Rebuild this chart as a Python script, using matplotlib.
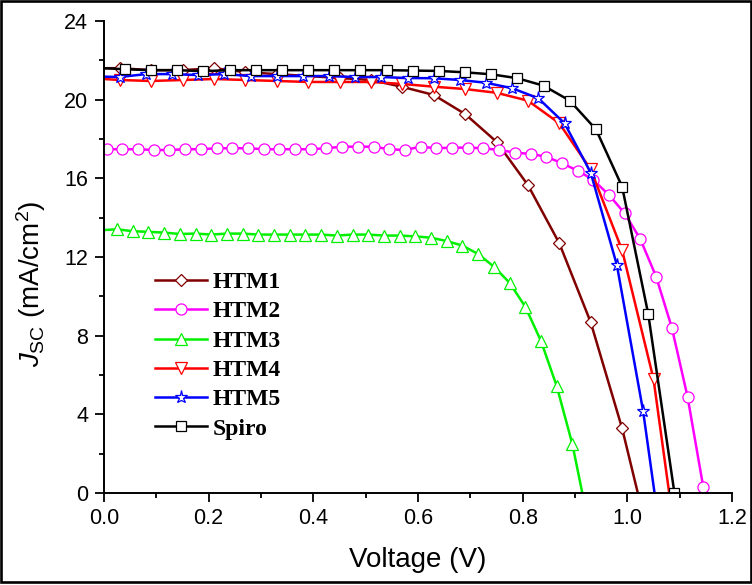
import matplotlib
matplotlib.use("Agg")
import matplotlib.pyplot as plt
from matplotlib.ticker import MultipleLocator
from matplotlib.patches import Rectangle

# J-V curves (voltage in V, current density in mA/cm^2)
htm1_v = [0.00, 0.03, 0.09, 0.15, 0.21, 0.27, 0.33, 0.39, 0.45, 0.51, 0.57,
          0.63, 0.69, 0.75, 0.81, 0.87, 0.93, 0.99, 1.02]
htm1_j = [21.60, 21.60, 21.50, 21.50, 21.60, 21.40, 21.30, 21.20, 21.10, 21.00, 20.65,
          20.24, 19.27, 17.86, 15.66, 12.70, 8.68, 3.29, 0.00]

htm2_v = [0.005, 0.035, 0.065, 0.095, 0.125, 0.155, 0.185, 0.215, 0.245, 0.275,
          0.305, 0.335, 0.365, 0.395, 0.425, 0.455, 0.485, 0.515, 0.545, 0.575,
          0.605, 0.635, 0.665, 0.695, 0.725, 0.755, 0.785, 0.815, 0.845, 0.875,
          0.905, 0.935, 0.965, 0.995, 1.025, 1.055, 1.085, 1.115, 1.145]
htm2_j = [17.48, 17.48, 17.48, 17.44, 17.44, 17.48, 17.48, 17.53, 17.53, 17.53,
          17.48, 17.48, 17.48, 17.48, 17.53, 17.61, 17.61, 17.61, 17.48, 17.44,
          17.61, 17.53, 17.56, 17.56, 17.53, 17.44, 17.31, 17.24, 17.10, 16.77,
          16.39, 15.92, 15.15, 14.22, 12.90, 11.00, 8.41, 4.90, 0.32]

htm3_v = [0.000, 0.025, 0.055, 0.085, 0.115, 0.145, 0.175, 0.205, 0.235, 0.265,
          0.295, 0.325, 0.355, 0.385, 0.415, 0.445, 0.475, 0.505, 0.535, 0.565,
          0.595, 0.625, 0.655, 0.685, 0.715, 0.745, 0.775, 0.805, 0.835, 0.865,
          0.895, 0.914]
htm3_j = [13.37, 13.41, 13.31, 13.28, 13.24, 13.17, 13.19, 13.14, 13.19, 13.19,
          13.14, 13.14, 13.14, 13.14, 13.14, 13.09, 13.14, 13.14, 13.09, 13.09,
          13.05, 12.98, 12.81, 12.58, 12.15, 11.51, 10.69, 9.47, 7.73, 5.44,
          2.48, 0.00]

htm4_v = [0.00, 0.03, 0.09, 0.15, 0.21, 0.27, 0.33, 0.39, 0.45, 0.51, 0.57,
          0.63, 0.69, 0.75, 0.81, 0.87, 0.93, 0.99, 1.05, 1.08]
htm4_j = [21.05, 21.00, 20.95, 21.00, 21.05, 21.00, 20.95, 20.90, 20.90, 20.90, 20.80,
          20.66, 20.54, 20.35, 19.95, 18.80, 16.45, 12.35, 5.80, 0.00]

htm5_v = [0.000, 0.03, 0.08, 0.13, 0.18, 0.23, 0.28, 0.33, 0.38, 0.43, 0.48, 0.53,
          0.58, 0.63, 0.68, 0.73, 0.78, 0.83, 0.88, 0.93, 0.98, 1.03, 1.052]
htm5_j = [21.17, 21.15, 21.30, 21.30, 21.25, 21.30, 21.20, 21.20, 21.20, 21.20, 21.15, 21.15,
          21.10, 21.09, 21.00, 20.86, 20.58, 20.07, 18.80, 16.29, 11.59, 4.19, 0.00]

spiro_v = [0.00, 0.04, 0.09, 0.14, 0.19, 0.24, 0.29, 0.34, 0.39, 0.44, 0.49, 0.54,
           0.59, 0.64, 0.69, 0.74, 0.79, 0.84, 0.89, 0.94, 0.99, 1.04, 1.09]
spiro_j = [21.60, 21.55, 21.50, 21.50, 21.45, 21.50, 21.50, 21.50, 21.50, 21.50, 21.50, 21.50,
           21.48, 21.46, 21.39, 21.29, 21.09, 20.71, 19.95, 18.49, 15.58, 9.09, 0.00]

labels = ["HTM1", "HTM2", "HTM3", "HTM4", "HTM5", "Spiro"]
x_ticks = [0.0, 0.2, 0.4, 0.6, 0.8, 1.0, 1.2]
y_ticks = [0, 4, 8, 12, 16, 20, 24]

plt.rcParams["font.family"] = ["Liberation Sans", "DejaVu Sans"]
plt.rcParams["mathtext.fontset"] = "custom"
plt.rcParams["mathtext.rm"] = "Liberation Sans"
plt.rcParams["mathtext.it"] = "Liberation Sans:italic"

fig = plt.figure(figsize=(7.52, 5.85), dpi=100)
ax = fig.add_axes([104 / 752, 92 / 585, 628 / 752, 472 / 585])

series = [
    (htm1_v, htm1_j, "#800000", "D", 6.6, slice(1, -1)),
    (htm2_v, htm2_j, "#ff00ff", "o", 8.0, None),
    (htm3_v, htm3_j, "#00f000", "^", 9.0, slice(1, -1)),
    (htm4_v, htm4_j, "#ff0000", "v", 8.5, slice(1, -1)),
    (htm5_v, htm5_j, "#0000ff", "*", 9.5, slice(1, -1)),
    (spiro_v, spiro_j, "#000000", "s", 6.8, slice(1, None)),
]

for (v, j, color, marker, ms, every), label in zip(series, labels):
    ax.plot(v, j, color=color, lw=1.8, marker=marker, ms=ms, mfc="white",
            mec=color, mew=0.9, markevery=every, label=label)

ax.set_xlim(0, 1.2)
ax.set_ylim(0, 24)
ax.set_xticks(x_ticks)
ax.set_xticklabels([f"{t:.1f}" for t in x_ticks])
ax.set_yticks(y_ticks)
ax.set_yticklabels([str(t) for t in y_ticks])
ax.xaxis.set_minor_locator(MultipleLocator(0.1))
ax.yaxis.set_minor_locator(MultipleLocator(2))

for side in ("top", "right"):
    ax.spines[side].set_visible(False)
for side in ("left", "bottom"):
    ax.spines[side].set_linewidth(1.4)

ax.tick_params(which="major", direction="out", length=6.5, width=1.3,
               labelsize=15.5, colors="black")
ax.tick_params(which="minor", direction="out", length=3.3, width=1.3)
ax.tick_params(axis="x", which="major", pad=4)
ax.tick_params(axis="y", which="major", pad=5)

ax.set_xlabel("Voltage (V)", fontsize=20, labelpad=13)
ax.set_ylabel(r"$J_{\rm SC}$ (mA/cm$^{2}$)", fontsize=20)
ax.yaxis.set_label_coords(-0.089, 0.443)

leg = ax.legend(loc="upper left", bbox_to_anchor=(0.081, 0.469), frameon=False,
                borderpad=0, borderaxespad=0, handlelength=2.2,
                handletextpad=0.25, labelspacing=0.33,
                prop={"family": "Liberation Serif", "weight": "bold", "size": 17})

# thin frame around the whole figure
fig.patches.append(Rectangle((1.3 / 752, 3.3 / 585), 749.4 / 752, 580.4 / 585,
                             transform=fig.transFigure, fill=False,
                             edgecolor="black", linewidth=1.9, zorder=10))

fig.savefig("out.png", dpi=100)
